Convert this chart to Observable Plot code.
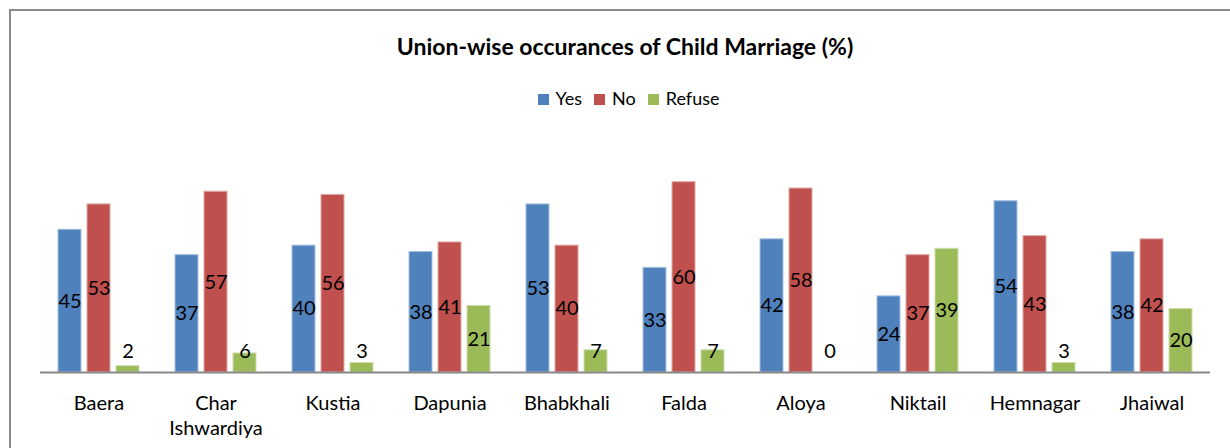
<!DOCTYPE html>
<html>
<head>
<meta charset="utf-8">
<script src="https://cdn.jsdelivr.net/npm/d3@7"></script>
<script src="https://cdn.jsdelivr.net/npm/@observablehq/plot@0.6"></script>
<style>
  html, body { margin: 0; padding: 0; background: #fff; overflow: hidden; }
  body { width: 1230px; height: 448px; position: relative; font-family: Lato, "Open Sans", sans-serif; }
  #frame { position: absolute; left: 9px; top: 9px; width: 1260px; height: 480px; border: 2px solid #8a8a8a; box-sizing: border-box; }
  #title { position: absolute; left: 0; top: 35px; width: 1250px; text-align: center; font-weight: bold; font-size: 23px; line-height: 22px; color: #000; }
  #legend { position: absolute; left: 0; top: 89px; width: 1257px; text-align: center; font-size: 18px; line-height: 18px; color: #000; }
  .item { display: inline-block; margin: 0 6px; }
  .sw { display: inline-block; width: 11px; height: 11px; margin-right: 7px; vertical-align: baseline; }
  #chart { position: absolute; left: 0; top: 140px; }
</style>
</head>
<body>
<div id="frame"></div>
<div id="title">Union-wise occurances of Child Marriage (%)</div>
<div id="legend"></div>
<div id="chart"></div>
<script>
const unions = ["Baera", "Char Ishwardiya", "Kustia", "Dapunia", "Bhabkhali", "Falda", "Aloya", "Niktail", "Hemnagar", "Jhaiwal"];
const yes = [45, 37, 40, 38, 53, 33, 42, 24, 54, 38];
const no = [53, 57, 56, 41, 40, 60, 58, 37, 43, 42];
const refuse = [2, 6, 3, 21, 7, 7, 0, 39, 3, 20];
const series = ["Yes", "No", "Refuse"];
const colors = ["#4F81BD", "#C0504D", "#9BBB59"];
const edges = ["#A7C0DE", "#DFA8A6", "#CDDDAC"];

const data = unions.flatMap((u, i) => [
  {union: u, series: "Yes", value: yes[i]},
  {union: u, series: "No", value: no[i]},
  {union: u, series: "Refuse", value: refuse[i]}
]);

const legend = document.getElementById("legend");
series.forEach((s, i) => {
  const item = document.createElement("span");
  item.className = "item";
  const sw = document.createElement("span");
  sw.className = "sw";
  sw.style.background = colors[i];
  item.appendChild(sw);
  item.appendChild(document.createTextNode(s));
  legend.appendChild(item);
});

const chart = Plot.plot({
  width: 1230,
  height: 302,
  marginLeft: 38,
  marginRight: 18,
  marginTop: 10,
  marginBottom: 70,
  style: {fontFamily: "Lato, 'Open Sans', sans-serif", background: "transparent", color: "#000"},
  fx: {domain: unions, padding: 0, label: null, axis: null},
  x: {domain: series, paddingInner: 0.2, paddingOuter: 0.6, axis: null},
  y: {domain: [0, 70], axis: null},
  color: {domain: series, range: colors},
  marks: [
    Plot.barY(data, {fx: "union", x: "series", y: "value", fill: "series",
      stroke: d => edges[series.indexOf(d.series)], strokeWidth: 1}),
    Plot.ruleY([0], {stroke: "#878787", strokeWidth: 2}),
    Plot.text(data, {fx: "union", x: "series", y: d => Math.max(d.value / 2, 6.7),
      text: d => String(d.value), fontSize: 20, fill: "#000"}),
    Plot.axisFx({anchor: "bottom", tickSize: 0, tickPadding: 19.5, fontSize: 20, lineHeight: 1.25, label: null,
      fill: "#000",
      tickFormat: d => d === "Char Ishwardiya" ? "Char\nIshwardiya" : d})
  ]
});
document.getElementById("chart").appendChild(chart);
</script>
</body>
</html>
